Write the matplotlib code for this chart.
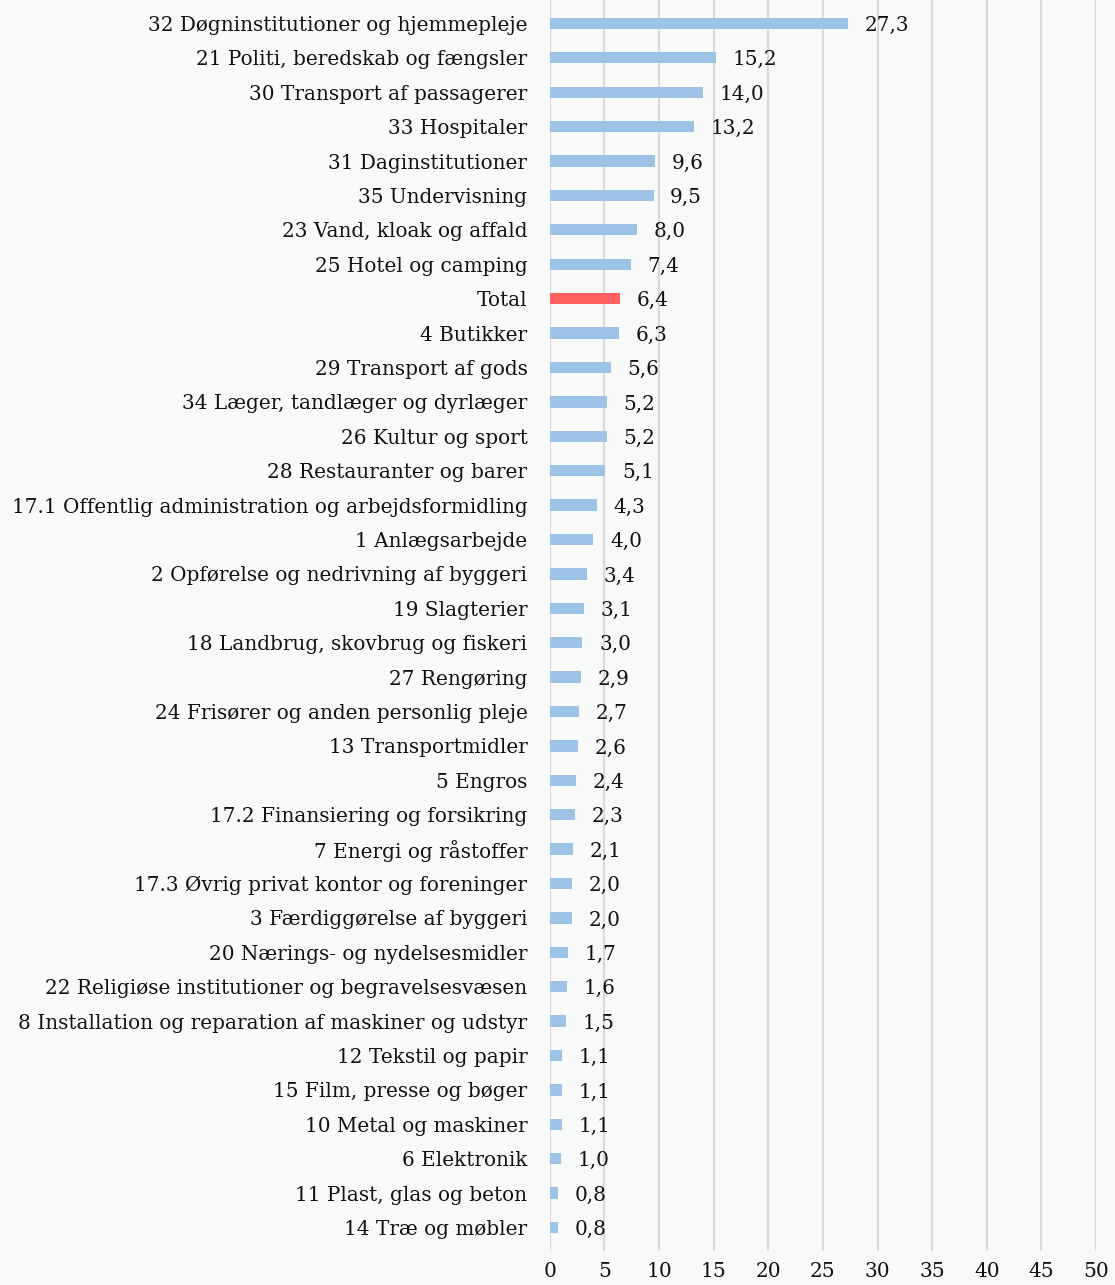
import matplotlib
matplotlib.use('Agg')
import matplotlib.pyplot as plt

categories = ['32 Døgninstitutioner og hjemmepleje', '21 Politi, beredskab og fængsler',
              '30 Transport af passagerer', '33 Hospitaler', '31 Daginstitutioner',
              '35 Undervisning', '23 Vand, kloak og affald', '25 Hotel og camping', 'Total',
              '4 Butikker', '29 Transport af gods', '34 Læger, tandlæger og dyrlæger',
              '26 Kultur og sport', '28 Restauranter og barer',
              '17.1 Offentlig administration og arbejdsformidling', '1 Anlægsarbejde',
              '2 Opførelse og nedrivning af byggeri', '19 Slagterier',
              '18 Landbrug, skovbrug og fiskeri', '27 Rengøring',
              '24 Frisører og anden personlig pleje', '13 Transportmidler', '5 Engros',
              '17.2 Finansiering og forsikring', '7 Energi og råstoffer',
              '17.3 Øvrig privat kontor og foreninger', '3 Færdiggørelse af byggeri',
              '20 Nærings- og nydelsesmidler', '22 Religiøse institutioner og begravelsesvæsen',
              '8 Installation og reparation af maskiner og udstyr', '12 Tekstil og papir',
              '15 Film, presse og bøger', '10 Metal og maskiner', '6 Elektronik',
              '11 Plast, glas og beton', '14 Træ og møbler']
values = [27.3, 15.2, 14.0, 13.2, 9.6, 9.5, 8.0, 7.4, 6.4, 6.3, 5.6, 5.2, 5.2, 5.1,
          4.3, 4.0, 3.4, 3.1, 3.0, 2.9, 2.7, 2.6, 2.4, 2.3, 2.1, 2.0, 2.0, 1.7, 1.6,
          1.5, 1.1, 1.1, 1.1, 1.0, 0.8, 0.8]
xticks = [0, 5, 10, 15, 20, 25, 30, 35, 40, 45, 50]

plt.rcParams['font.family'] = ['DejaVu Serif']

bg = '#f8f9f9'
fig = plt.figure(figsize=(11.15, 12.85), dpi=100, facecolor=bg)
ax = fig.add_axes([0.493, 0.0265, 0.49, 0.9735], facecolor=bg)

colors = ['#ff6161' if c == 'Total' else '#9dc3e6' for c in categories]
ypos = list(range(len(categories)))
ax.barh(ypos, values, height=0.33, color=colors, zorder=2)

# value labels with decimal comma
for y, v in zip(ypos, values):
    ax.annotate(f'{v:.1f}'.replace('.', ','), (v, y), xytext=(12, -1.5),
                textcoords='offset points', va='center', ha='left',
                fontsize=14.4, color='#111111')

ax.set_yticks(ypos)
ax.set_yticklabels(categories, fontsize=14.4, color='#111111')
ax.set_ylim(len(categories) - 0.32, -0.68)
ax.set_xlim(0, 50)
ax.set_xticks(xticks)
ax.set_xticklabels([str(t) for t in xticks], fontsize=14.5, color='#111111')
ax.tick_params(axis='y', length=0, pad=16)
ax.tick_params(axis='x', length=0, pad=8)
ax.grid(axis='x', color='#d9d9d9', linewidth=1.5, zorder=0)
for s in ax.spines.values():
    s.set_visible(False)

plt.savefig('out.png', dpi=100, facecolor=bg)
